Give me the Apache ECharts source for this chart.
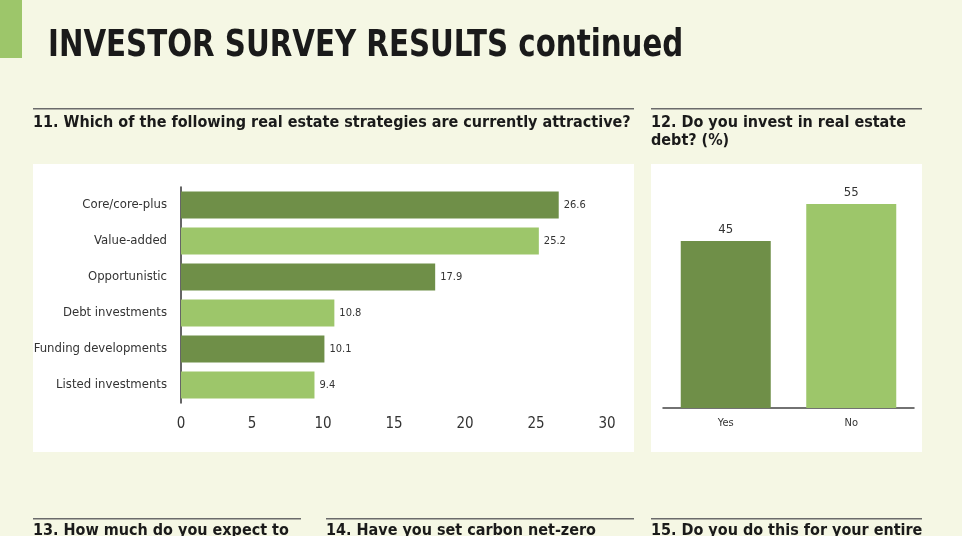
<!DOCTYPE html>
<html>
<head>
<meta charset="utf-8">
<script src="https://cdn.jsdelivr.net/npm/echarts@6/dist/echarts.min.js"></script>
<style>
html, body { margin: 0; padding: 0; background: #f5f7e4; }
#main { width: 962px; height: 536px; }
</style>
</head>
<body>
<div id="main"></div>
<script>
// Q11 - strategies
var strategies = ['Core/core-plus', 'Value-added', 'Opportunistic', 'Debt investments', 'Funding developments', 'Listed investments'];
var strategyValues = [26.6, 25.2, 17.9, 10.8, 10.1, 9.4];
var strategyTicks = [0, 5, 10, 15, 20, 25, 30];
// Q12 - real estate debt
var debtAnswers = ['Yes', 'No'];
var debtValues = [45, 55];

var DARK = '#6f8f48';
var LIGHT = '#9dc66a';
var FONT = '"Liberation Sans Narrow", "DejaVu Sans Condensed", "Roboto", sans-serif';

var dom = document.getElementById('main');
var myChart = echarts.init(dom);

// heading text, sx squeezes it a bit since we have no condensed DIN
function txt(s, x, y, size, sx) {
    return {
        type: 'text', z: 10,
        x: x, y: y, scaleX: sx || 1,
        style: {
            text: s, x: 0, y: 0, fill: '#1a1a1a',
            font: 'bold ' + size + 'px ' + FONT,
            verticalAlign: 'middle', align: 'left'
        }
    };
}
function box(x, y, w, h, color) {
    return { type: 'rect', z: 0, shape: { x: x, y: y, width: w, height: h }, style: { fill: color } };
}

option = {
    backgroundColor: '#f5f7e4',
    animation: false,
    graphic: [
        box(0, 0, 22, 58, LIGHT),
        txt('INVESTOR SURVEY RESULTS continued', 48, 46, 37, 0.88),
        box(33, 108, 601, 1.5, '#6b6b6b'),
        box(651, 108, 271, 1.5, '#6b6b6b'),
        txt('11. Which of the following real estate strategies are currently attractive?', 33, 123, 16),
        txt('12. Do you invest in real estate', 651, 123, 16),
        txt('debt? (%)', 651, 141, 16),
        box(33, 164, 601, 288, '#ffffff'),
        box(651, 164, 271, 288, '#ffffff'),
        box(33, 518, 268, 1.5, '#6b6b6b'),
        box(326, 518, 308, 1.5, '#6b6b6b'),
        box(651, 518, 271, 1.5, '#6b6b6b'),
        txt('13. How much do you expect to', 33, 531, 16),
        txt('14. Have you set carbon net-zero', 326, 531, 16),
        txt('15. Do you do this for your entire', 651, 531, 16)
    ],
    grid: [
        { left: 181, top: 187, width: 426, height: 216, containLabel: false },
        { left: 663, top: 185.4, width: 251, height: 222.6, containLabel: false }
    ],
    xAxis: [
        {
            gridIndex: 0,
            type: 'value',
            min: 0,
            max: strategyTicks[strategyTicks.length - 1],
            interval: strategyTicks[1] - strategyTicks[0],
            axisLine: { show: false },
            axisTick: { show: false },
            splitLine: { show: false },
            axisLabel: { color: '#333', fontFamily: FONT, fontSize: 15, margin: 14 }
        },
        {
            gridIndex: 1,
            type: 'category',
            data: debtAnswers,
            axisLine: { show: true, lineStyle: { color: '#444', width: 1.5 } },
            axisTick: { show: false },
            axisLabel: { color: '#333', fontFamily: FONT, fontSize: 11, margin: 10 }
        }
    ],
    yAxis: [
        {
            gridIndex: 0,
            type: 'category',
            inverse: true,
            data: strategies,
            axisLine: { show: true, lineStyle: { color: '#333', width: 1.5 } },
            axisTick: { show: false },
            axisLabel: { color: '#333', fontFamily: FONT, fontSize: 13, margin: 14 }
        },
        {
            gridIndex: 1,
            type: 'value',
            min: 0,
            max: 60,
            show: false
        }
    ],
    series: [
        {
            type: 'bar',
            xAxisIndex: 0,
            yAxisIndex: 0,
            barWidth: 27,
            data: strategyValues,
            itemStyle: {
                color: function (p) { return p.dataIndex % 2 === 0 ? DARK : LIGHT; }
            },
            label: {
                show: true, position: 'right', distance: 5,
                color: '#333', fontFamily: FONT, fontSize: 11,
                formatter: function (p) { return p.value.toFixed(1); }
            }
        },
        {
            type: 'bar',
            xAxisIndex: 1,
            yAxisIndex: 1,
            barWidth: 90,
            data: debtValues,
            itemStyle: {
                color: function (p) { return p.dataIndex === 0 ? DARK : LIGHT; }
            },
            label: {
                show: true, position: 'top', distance: 5,
                color: '#333', fontFamily: FONT, fontSize: 13
            }
        }
    ]
};
myChart.setOption(option, true);
</script>
</body>
</html>
